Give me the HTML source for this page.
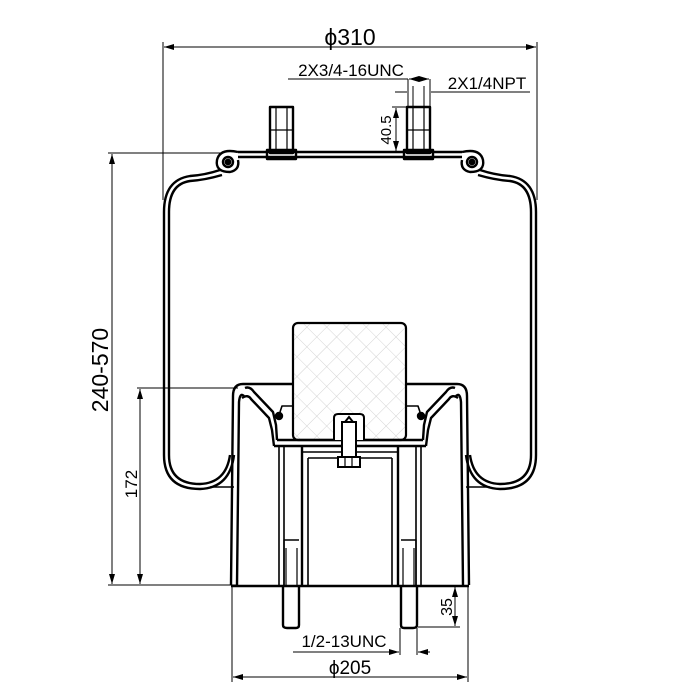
<!DOCTYPE html>
<html><head><meta charset="utf-8"><style>
html,body{margin:0;padding:0;background:#fff;}
svg{display:block;}
text{font-family:"Liberation Sans",Arial,sans-serif;fill:#000;}
</style></head><body>
<svg width="700" height="700" viewBox="0 0 700 700" xmlns="http://www.w3.org/2000/svg">
<defs>
<pattern id="h" width="14" height="14" patternUnits="userSpaceOnUse" patternTransform="rotate(45)">
<path d="M0 0 H14 M0 0 V14" stroke="#c8c8c8" stroke-width="0.8" fill="none"/>
</pattern>
<marker id="a" viewBox="0 0 10 6" refX="10" refY="3" markerWidth="10" markerHeight="6" orient="auto-start-reverse" markerUnits="userSpaceOnUse"><path d="M0 0 L10 3 L0 6 z" fill="#000"/></marker>
<g id="half" fill="none" stroke="#000" stroke-width="2.4" stroke-linejoin="round">
  <path d="M350 152 L462 152"/>
  <path d="M350 157 L462 157"/>
  <path d="M462 152 Q480 148 483 160 Q485 172 470 172 Q460 170 462 160"/>
  <circle cx="472" cy="162" r="5"/>
  <circle cx="472" cy="162" r="2.2" fill="#000"/>
  <rect x="407" y="107" width="23" height="46"/>
  <path d="M404 150 H433 V159 H404 Z"/>
  <path d="M413 107 V150 M424 107 V150 M407 130 H430" stroke-width="1.2"/>
  <path d="M480 170 Q495 175 510 176 Q536 180 536 212 L536 455 Q536 489 500 489 Q470 488 466 455"/>
  <path d="M478 175 Q495 180 510 181 Q531 184 531 212 L531 455 Q531 484 500 484 Q474 483 470 455"/>
  <path d="M466 487 H490" stroke-width="1.4"/>
  <path d="M406 384 L457 384 Q467 384 467 396 L469 585"/>
  <path d="M456 396 Q460 392 461 402 L463 585"/>
  <path d="M455 388 Q450 386 446 392 L427 412 L424 425 L423 440"/>
  <path d="M458 398 Q452 394 449 399 L431 418 L428 430 L426 446"/>
  <path d="M406 406 H418 L420 412" stroke-width="1.6"/>
  <circle cx="421" cy="416" r="3" fill="#000"/>
  <path d="M350 440 L423 440"/>
  <path d="M350 446 L426 446"/>
  <path d="M398 446 L398 585"/>
  <path d="M392 458 L392 585" stroke-width="1.6"/>
  <path d="M350 452 L398 452" stroke-width="1.6"/>
  <path d="M350 458 L392 458" stroke-width="1.6"/>
  <path d="M416 446 L416 585 M421 446 L421 585" stroke-width="1.6"/>
  <path d="M401 540 H416 V585" stroke-width="1.4"/>
  <path d="M403 548 V585 M414 548 V585" stroke-width="1.2"/>
  <path d="M401 585 V625 Q401 628 404 628 H413 Q417 628 417 625 V585"/>
  <path d="M350 586 L469 586"/>
</g>
</defs>

<rect x="293" y="323" width="113" height="117" rx="5" fill="url(#h)" stroke="#000" stroke-width="2.2"/>

<use href="#half"/>
<use href="#half" transform="matrix(-1 0 0 1 700 0)"/>

<g fill="#fff" stroke="#000" stroke-width="2">
<path d="M334 440 V418 Q334 414 338 414 H360 Q364 414 364 418 V440"/>
<rect x="342" y="422" width="14" height="36"/>
<path d="M345 422 L349 417 L353 422" fill="none"/>
<rect x="338" y="457" width="22" height="10"/>
<path d="M345 457 V467 M352 457 V467" stroke-width="1.2"/>
</g>

<g stroke="#000" stroke-width="1" fill="none">
  <path d="M163 42 V200 M537 42 V200"/>
  <path d="M164 47 H536" marker-start="url(#a)" marker-end="url(#a)"/>
  <path d="M288 79 H408" />
  <path d="M408 79 V107 M430 79 V107"/>
  <path d="M409 79 H429" marker-start="url(#a)" marker-end="url(#a)"/>
  <path d="M395 92 H407 M431 92 H530"/>
  <path d="M413 86 V107 M424 86 V107"/>
  <path d="M392 107 H407 M392 152 H405"/>
  <path d="M396 108 V151" marker-start="url(#a)" marker-end="url(#a)"/>
  <path d="M108 153 H222 M108 585 H236"/>
  <path d="M112 154 V584" marker-start="url(#a)" marker-end="url(#a)"/>
  <path d="M137 388 H238"/>
  <path d="M140 389 V584" marker-start="url(#a)" marker-end="url(#a)"/>
  <path d="M418 627 H460"/>
  <path d="M455 587 V626" marker-start="url(#a)" marker-end="url(#a)"/>
  <path d="M232 586 V682 M468 586 V682"/>
  <path d="M233 677 H467" marker-start="url(#a)" marker-end="url(#a)"/>
  <path d="M400 628 V655 M417 628 V655"/>
  <path d="M293 652 H399" marker-end="url(#a)"/>
  <path d="M430 652 H418" marker-end="url(#a)"/>
</g>

<text x="350" y="45" font-size="23" text-anchor="middle">ϕ310</text>
<text x="351" y="76" font-size="17" text-anchor="middle">2X3/4-16UNC</text>
<text x="487" y="89" font-size="17" text-anchor="middle">2X1/4NPT</text>
<text transform="translate(391 130) rotate(-90)" font-size="15" text-anchor="middle">40.5</text>
<text transform="translate(108 370) rotate(-90)" font-size="23" text-anchor="middle">240-570</text>
<text transform="translate(137 484) rotate(-90)" font-size="17" text-anchor="middle">172</text>
<text transform="translate(452 607) rotate(-90)" font-size="16" text-anchor="middle">35</text>
<text x="344" y="647" font-size="17" text-anchor="middle">1/2-13UNC</text>
<text x="350" y="674" font-size="19" text-anchor="middle">ϕ205</text>
</svg>
</body></html>
